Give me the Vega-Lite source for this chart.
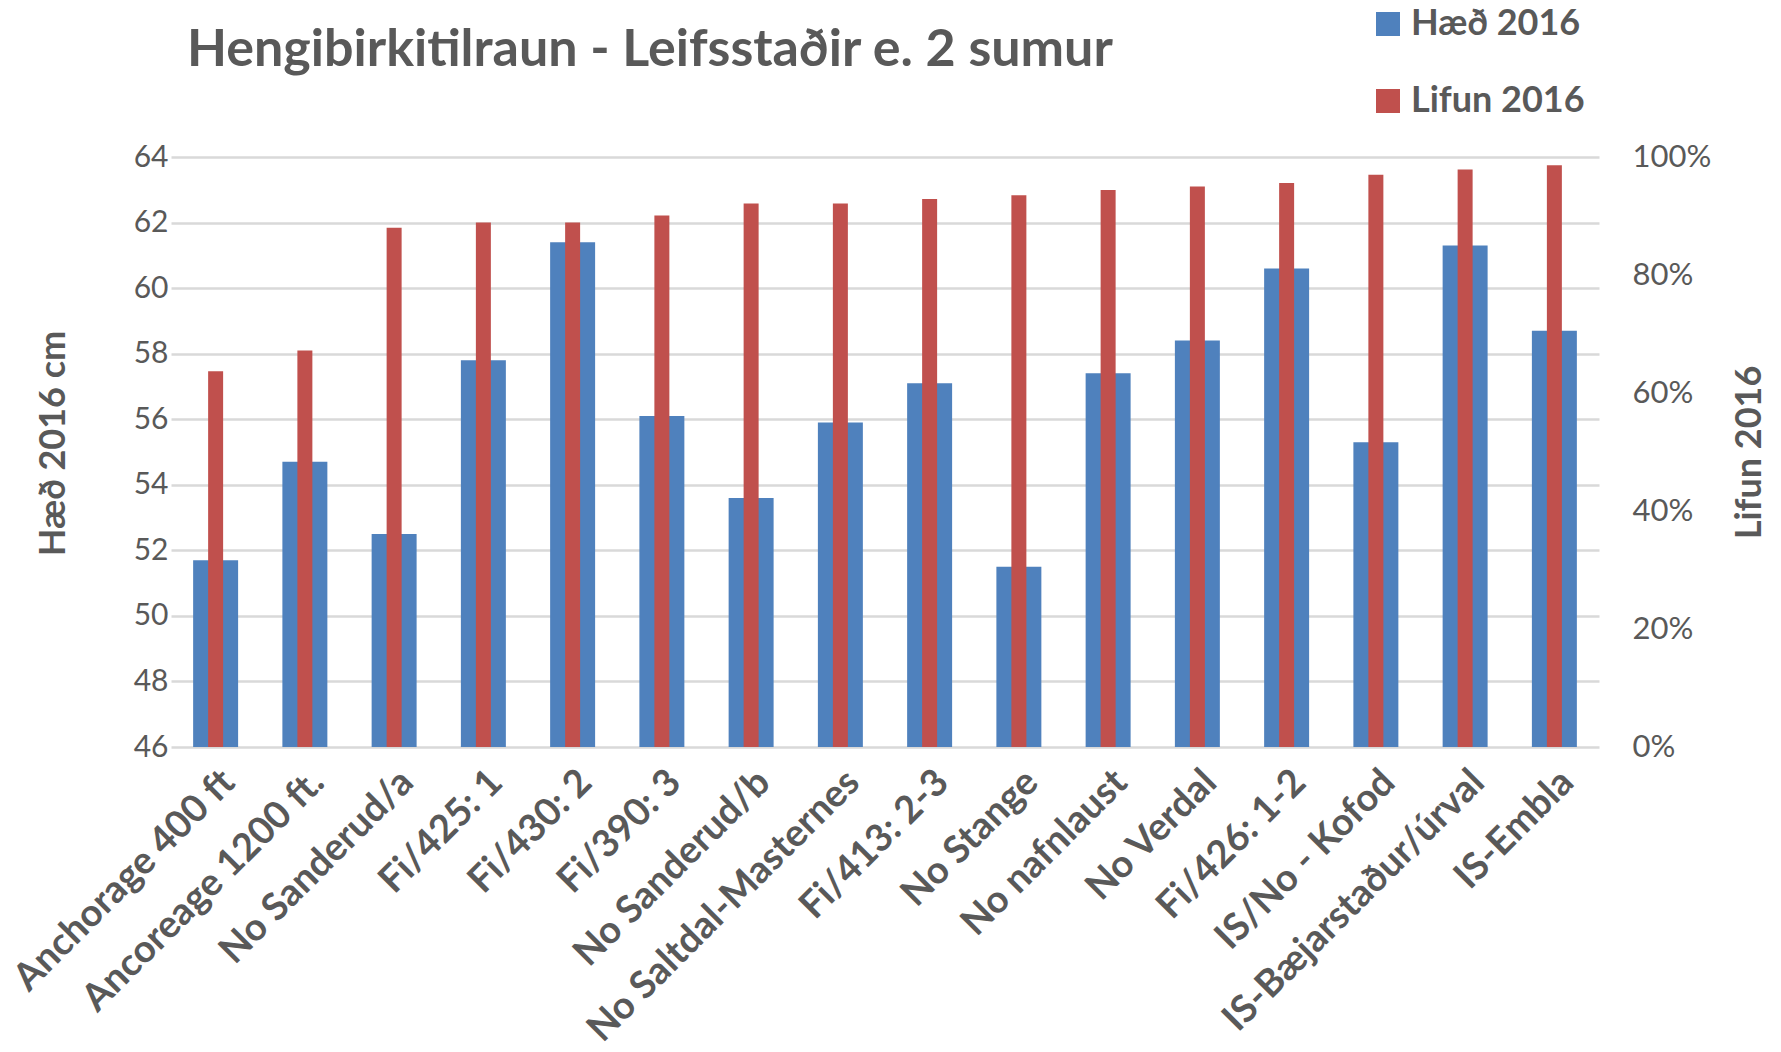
{
  "$schema": "https://vega.github.io/schema/vega-lite/v6.json",
  "width": 1428,
  "height": 590,
  "autosize": "none",
  "padding": {"left": 171, "top": 157, "right": 182, "bottom": 305},
  "background": "white",
  "config": {"view": {"stroke": null}, "font": "Lato"},
  "title": {
    "text": "Hengibirkitilraun - Leifsstaðir e. 2 sumur",
    "anchor": "start",
    "frame": "group",
    "fontSize": 52,
    "font": "Lato",
    "fontWeight": "bold",
    "color": "#595959",
    "dx": 16,
    "offset": -71
  },
  "data": {
    "values": [
      {"name": "Anchorage 400 ft", "haed": 51.7, "lifun": 0.637},
      {"name": "Ancoreage 1200 ft.", "haed": 54.7, "lifun": 0.672},
      {"name": "No Sanderud/a", "haed": 52.5, "lifun": 0.880},
      {"name": "Fi/425: 1", "haed": 57.8, "lifun": 0.889},
      {"name": "Fi/430: 2", "haed": 61.4, "lifun": 0.889},
      {"name": "Fi/390: 3", "haed": 56.1, "lifun": 0.901},
      {"name": "No Sanderud/b", "haed": 53.6, "lifun": 0.921},
      {"name": "No Saltdal-Masternes", "haed": 55.9, "lifun": 0.921},
      {"name": "Fi/413: 2-3", "haed": 57.1, "lifun": 0.929},
      {"name": "No Stange", "haed": 51.5, "lifun": 0.935},
      {"name": "No nafnlaust", "haed": 57.4, "lifun": 0.944},
      {"name": "No Verdal", "haed": 58.4, "lifun": 0.950},
      {"name": "Fi/426: 1-2", "haed": 60.6, "lifun": 0.956},
      {"name": "IS/No - Kofod", "haed": 55.3, "lifun": 0.970},
      {"name": "IS-Bæjarstaður/úrval", "haed": 61.3, "lifun": 0.979},
      {"name": "IS-Embla", "haed": 58.7, "lifun": 0.986}
    ]
  },
  "encoding": {
    "x": {
      "field": "name", "type": "nominal", "sort": null,
      "scale": {"paddingInner": 0, "paddingOuter": 0},
      "axis": {
        "title": null, "labelAngle": -45, "labelFontSize": 38, "labelFontWeight": "bold",
        "labelColor": "#595959", "ticks": false, "domain": false, "labelPadding": 16,
        "labelFont": "Lato", "labelOverlap": false, "labelLimit": 800
      }
    }
  },
  "layer": [
    {
      "mark": {"type": "bar", "width": {"band": 0.504}, "clip": true},
      "encoding": {
        "y": {
          "field": "haed", "type": "quantitative",
          "scale": {"domain": [46, 64], "zero": false, "nice": false},
          "axis": {
            "title": "Hæð 2016 cm", "values": [46, 48, 50, 52, 54, 56, 58, 60, 62, 64],
            "grid": true, "gridColor": "#d9d9d9", "gridWidth": 2.5,
            "ticks": false, "domain": false, "labelFontSize": 30, "labelColor": "#595959",
            "labelPadding": 3, "labelFont": "Lato",
            "titleFontSize": 36, "titleFontWeight": "bold", "titleColor": "#595959", "titleFont": "Lato",
            "titleAngle": -90, "titleX": -118, "titleY": 286, "titleAlign": "center", "titleBaseline": "middle"
          }
        },
        "y2": {"datum": 46},
        "color": {
          "datum": "Hæð 2016", "type": "nominal",
          "scale": {"domain": ["Hæð 2016", "Lifun 2016"], "range": ["#4f81bd", "#c0504d"]},
          "legend": {
            "title": null, "orient": "none", "legendX": 1199, "legendY": -151, "direction": "vertical",
            "symbolType": "square", "symbolSize": 576, "symbolStrokeWidth": 0,
            "labelFontSize": 36, "labelFontWeight": "bold", "labelColor": "#595959", "labelFont": "Lato",
            "rowPadding": 41, "labelOffset": 5, "labelLimit": 400
          }
        }
      }
    },
    {
      "mark": {"type": "bar", "width": {"band": 0.168}},
      "encoding": {
        "y": {
          "field": "lifun", "type": "quantitative",
          "scale": {"domain": [0, 1], "nice": false},
          "axis": {
            "orient": "right", "title": "Lifun 2016", "format": ".0%", "values": [0, 0.2, 0.4, 0.6, 0.8, 1],
            "grid": false, "ticks": false, "domain": false, "labelFontSize": 31, "labelColor": "#595959",
            "labelPadding": 33, "labelFont": "Lato",
            "titleFontSize": 36, "titleFontWeight": "bold", "titleColor": "#595959", "titleFont": "Lato",
            "titleAngle": -90, "titleX": 150, "titleY": 295, "titleAlign": "center", "titleBaseline": "middle"
          }
        },
        "color": {"datum": "Lifun 2016", "type": "nominal"}
      }
    }
  ],
  "resolve": {"scale": {"y": "independent"}}
}
